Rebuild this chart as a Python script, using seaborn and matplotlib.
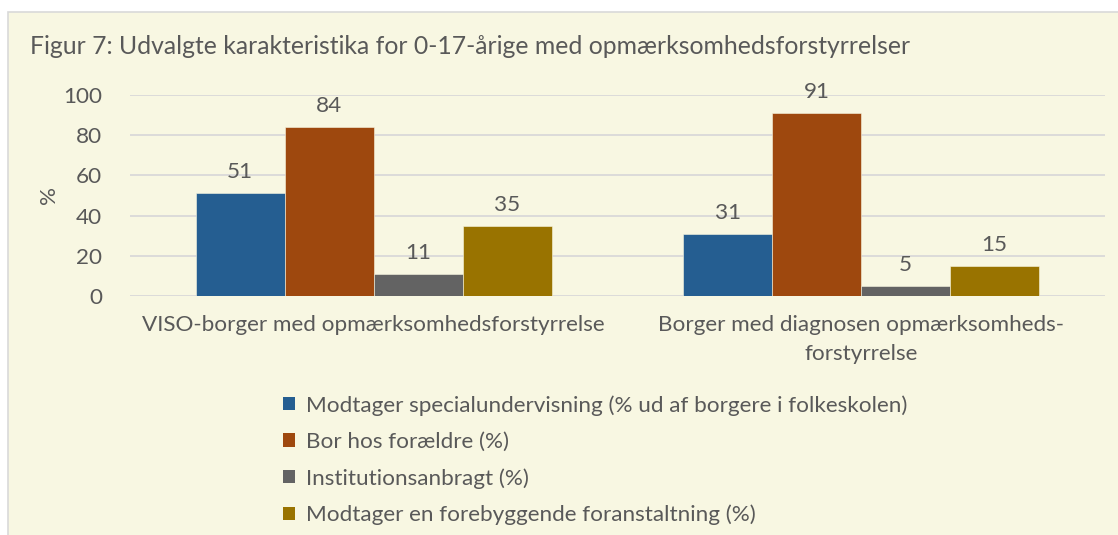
import pandas as pd
import matplotlib.pyplot as plt
import seaborn as sns
from matplotlib.patches import Rectangle, Patch

# data
groups = ["VISO-borger med opmærksomhedsforstyrrelse",
          "Borger med diagnosen opmærksomheds-\nforstyrrelse"]
series = ["Modtager specialundervisning (% ud af borgere i folkeskolen)",
          "Bor hos forældre (%)",
          "Institutionsanbragt (%)",
          "Modtager en forebyggende foranstaltning (%)"]
viso = [51, 84, 11, 35]
diagnose = [31, 91, 5, 15]
colors = ["#255E91", "#9E480E", "#636363", "#997300"]

rows = []
for s, a, b in zip(series, viso, diagnose):
    rows.append({"Gruppe": groups[0], "Serie": s, "Værdi": a})
    rows.append({"Gruppe": groups[1], "Serie": s, "Værdi": b})
df = pd.DataFrame(rows)

sns.set_style("white")
plt.rcParams["font.family"] = ["Lato", "DejaVu Sans"]
txt = "#595959"
bg = "#F8F7E2"
fs = 16.2

fig = plt.figure(figsize=(11.18, 5.35), dpi=100)
fig.patch.set_facecolor("white")
fig.patches.append(Rectangle((8 / 1118, -0.01), 1.02, 1 - 12 / 535 + 0.01,
                             transform=fig.transFigure, facecolor=bg,
                             edgecolor="#D9D9D9", linewidth=1.2, zorder=-10))

ax = fig.add_axes([130 / 1118, 1 - 296 / 535, 975 / 1118, 201 / 535])
ax.patch.set_alpha(0)

sns.barplot(data=df, x="Gruppe", y="Værdi", hue="Serie", palette=colors,
            saturation=1, width=0.73, gap=0, edgecolor="#F8F7E2",
            linewidth=0.4, legend=False, ax=ax)

for c in ax.containers:
    ax.bar_label(c, padding=8, fontsize=fs, color=txt)

ax.set_ylim(0, 100)
ax.set_yticks(range(0, 101, 20))
ax.yaxis.grid(True, color="#D9D9D9", linewidth=1.3)
ax.set_axisbelow(True)
sns.despine(ax=ax, left=True, bottom=True, top=True, right=True)
ax.tick_params(axis="y", length=0, pad=20, labelsize=fs, labelcolor=txt)
ax.tick_params(axis="x", length=0, pad=14, labelsize=fs, labelcolor=txt)
for lbl in ax.get_xticklabels():
    lbl.set_linespacing(1.55)
ax.set_xlabel("")
ax.set_ylabel("%", fontsize=fs, color=txt, labelpad=3)

fig.text(30 / 1118, 1 - 47 / 535,
         "Figur 7: Udvalgte karakteristika for 0-17-årige med opmærksomhedsforstyrrelser",
         fontsize=17.8, color=txt, va="center", ha="left")

handles = [Patch(facecolor=c, edgecolor="none") for c in colors]
leg = fig.legend(handles, series, loc="upper left",
                 bbox_to_anchor=(283 / 1118, 1 - 395 / 535),
                 frameon=False, fontsize=fs, labelcolor=txt,
                 handlelength=0.55, handleheight=0.55, handletextpad=0.45,
                 labelspacing=0.72, borderpad=0, borderaxespad=0)

plt.savefig("out.png", dpi=100, facecolor=fig.get_facecolor())
